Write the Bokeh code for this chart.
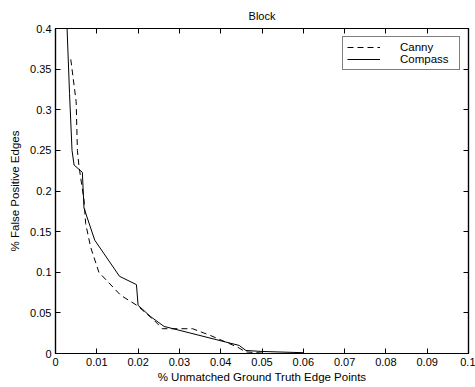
from bokeh.plotting import figure
from bokeh.models import Range1d, LinearAxis, FixedTicker, Legend, LegendItem
from bokeh.embed import file_html
from bokeh.resources import INLINE

# Data
canny_x = [0.0037, 0.0050, 0.0053, 0.0057, 0.0069, 0.0073, 0.0085, 0.0105, 0.0158,
           0.0198, 0.0239, 0.0259, 0.0332, 0.0376, 0.0441, 0.0460, 0.0500]
canny_y = [0.362, 0.310, 0.250, 0.230, 0.189, 0.160, 0.131, 0.100, 0.0716,
           0.059, 0.0407, 0.0305, 0.0305, 0.022, 0.0078, 0.002, 0.0005]

compass_x = [0.0028, 0.0034, 0.0040, 0.0045, 0.0065, 0.0069, 0.0095, 0.0155, 0.0196,
             0.0200, 0.0230, 0.0263, 0.0445, 0.0461, 0.0500, 0.0600]
compass_y = [0.400, 0.320, 0.250, 0.232, 0.223, 0.179, 0.1395, 0.095, 0.0848,
             0.0593, 0.0455, 0.0333, 0.0099, 0.0037, 0.0025, 0.0010]

x_ticks = [0, 0.01, 0.02, 0.03, 0.04, 0.05, 0.06, 0.07, 0.08, 0.09, 0.1]
x_tick_labels = ["0", "0.01", "0.02", "0.03", "0.04", "0.05", "0.06", "0.07", "0.08", "0.09", "0.1"]
y_ticks = [0, 0.05, 0.1, 0.15, 0.2, 0.25, 0.3, 0.35, 0.4]
y_tick_labels = ["0", "0.05", "0.1", "0.15", "0.2", "0.25", "0.3", "0.35", "0.4"]

title_text = "Block"
x_label = "% Unmatched Ground Truth Edge Points"
y_label = "% False Positive Edges"
series_names = ["Canny", "Compass"]

FONT = "Liberation Sans"

p = figure(width=475, height=387, output_backend="svg", toolbar_location=None,
           x_range=Range1d(0, 0.1), y_range=Range1d(0, 0.4), title=title_text,
           min_border_left=55, min_border_right=7, min_border_top=28, min_border_bottom=34,
           background_fill_color="white", border_fill_color="white")

p.xgrid.visible = False
p.ygrid.visible = False
p.outline_line_color = "black"
p.outline_line_width = 1.2

p.title.align = "center"
p.title.text_font = FONT
p.title.text_font_style = "normal"
p.title.text_font_size = "11px"
p.title.text_color = "black"
p.title.standoff = 14

def style_axis(ax, ticks, labels, show_labels=True):
    ax.ticker = FixedTicker(ticks=ticks)
    ax.major_label_overrides = {t: l for t, l in zip(ticks, labels)}
    ax.major_tick_in = 5
    ax.major_tick_out = 0
    ax.minor_tick_in = 0
    ax.minor_tick_out = 0
    ax.axis_line_color = "black"
    ax.axis_line_width = 1.2
    ax.major_tick_line_color = "black"
    ax.major_label_text_font = FONT
    ax.major_label_text_color = "black"
    if show_labels:
        ax.major_label_text_font_size = "11px"
        ax.major_label_standoff = 4
    else:
        ax.major_label_text_font_size = "0px"
        ax.major_label_standoff = 0
        ax.major_label_text_alpha = 0

xa = p.xaxis[0]
ya = p.yaxis[0]
style_axis(xa, x_ticks, x_tick_labels)
style_axis(ya, y_ticks, y_tick_labels)
xa.axis_label = x_label
ya.axis_label = y_label
for ax in (xa, ya):
    ax.axis_label_text_font = FONT
    ax.axis_label_text_font_style = "normal"
    ax.axis_label_text_font_size = "11.5px"
    ax.axis_label_text_color = "black"
xa.axis_label_standoff = 2
ya.axis_label_standoff = 6

top_ax = LinearAxis()
right_ax = LinearAxis()
style_axis(top_ax, x_ticks, x_tick_labels, show_labels=False)
style_axis(right_ax, y_ticks, y_tick_labels, show_labels=False)
p.add_layout(top_ax, "above")
p.add_layout(right_ax, "right")

r_canny = p.line(canny_x, canny_y, line_color="black", line_width=1, line_dash="6 4")
r_compass = p.line(compass_x, compass_y, line_color="black", line_width=1)

legend = Legend(items=[LegendItem(label=series_names[0], renderers=[r_canny]),
                       LegendItem(label=series_names[1], renderers=[r_compass])],
                location=(287, 283), orientation="vertical")
legend.glyph_width = 33
legend.glyph_height = 10
legend.label_standoff = 20
legend.label_width = 55
legend.label_height = 10
legend.spacing = -2
legend.padding = 4
legend.margin = 0
legend.label_text_font = FONT
legend.label_text_font_size = "11.5px"
legend.label_text_color = "black"
legend.border_line_color = "black"
legend.border_line_width = 1.2
legend.background_fill_color = "white"
legend.background_fill_alpha = 1
p.add_layout(legend, "center")

open("out.html", "w").write(file_html(p, INLINE))
